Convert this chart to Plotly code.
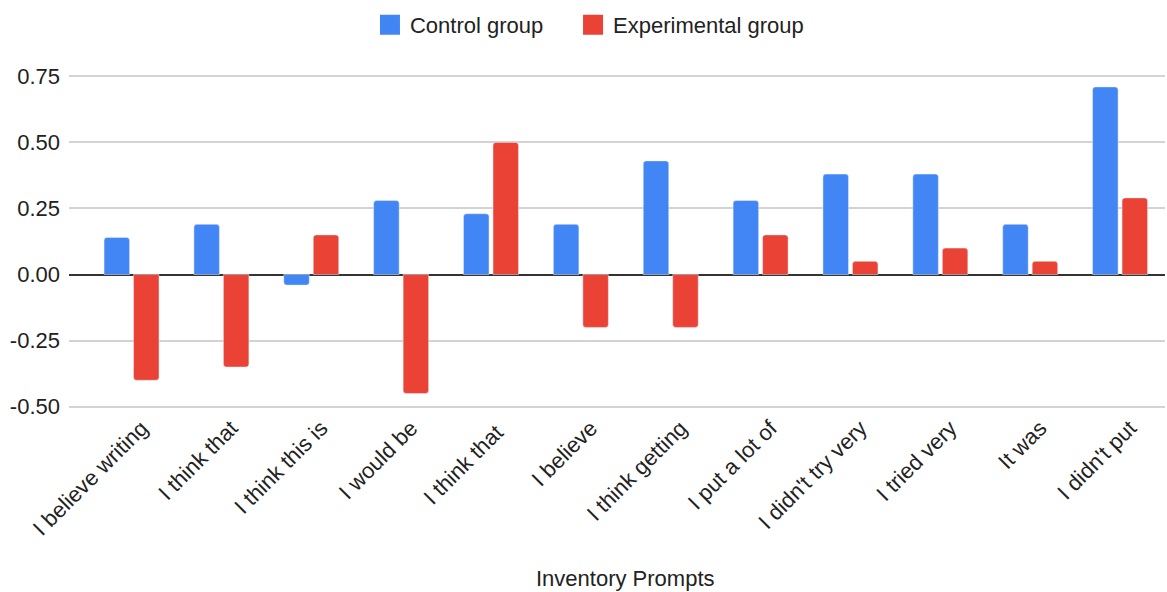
import plotly.graph_objects as go

prompts = [
    "I believe writing", "I think that", "I think this is", "I would be",
    "I think that ", "I believe", "I think getting", "I put a lot of",
    "I didn't try very", "I tried very", "It was", "I didn't put",
]
control = [0.14, 0.19, -0.04, 0.28, 0.23, 0.19, 0.43, 0.28, 0.38, 0.38, 0.19, 0.71]
experimental = [-0.40, -0.35, 0.15, -0.45, 0.50, -0.20, -0.20, 0.15, 0.05, 0.10, 0.05, 0.29]
y_ticks = [-0.50, -0.25, 0.00, 0.25, 0.50, 0.75]

series = [
    ("Control group", control, "#4285F4", "legend"),
    ("Experimental group", experimental, "#EA4335", "legend2"),
]

FONT = "Liberation Sans, Arial, sans-serif"
TXT = "#222222"

fig = go.Figure()
for name, values, color, _ in series:
    fig.add_trace(go.Bar(name=name, x=prompts, y=values, showlegend=False,
                         marker=dict(color=color, cornerradius=3)))
# legend entries with larger square swatches, one legend box per series
for name, values, color, leg in series:
    fig.add_trace(go.Scatter(name=name, x=[None], y=[None], mode="markers",
                             legend=leg,
                             marker=dict(symbol="square", size=16, color=color,
                                         line=dict(color=color, width=4))))

legend_common = dict(orientation="h", xanchor="left", y=1.15, yanchor="middle",
                     font=dict(size=22, color=TXT), bgcolor="rgba(0,0,0,0)")

fig.update_layout(
    width=1167, height=592,
    margin=dict(l=69, r=2, t=75, b=184),
    paper_bgcolor="white", plot_bgcolor="white",
    barmode="group", bargap=0.344, bargroupgap=0.135,
    font=dict(family=FONT, size=22, color=TXT),
    showlegend=True,
    legend=dict(x=0.2746, **legend_common),
    legend2=dict(x=0.4599, **legend_common),
    xaxis=dict(
        type="category", range=[-0.696, 11.5],
        tickangle=-45, tickfont=dict(size=22, color=TXT),
        showgrid=False, showline=False, zeroline=False, ticks="",
        ticklabelstandoff=2, ticklabelshift=10,
    ),
    yaxis=dict(
        range=[-0.505, 0.755], tickvals=y_ticks,
        ticktext=[f"{v:.2f}" for v in y_ticks],
        tickfont=dict(size=22, color=TXT),
        showgrid=True, gridcolor="#d3d3d3", gridwidth=2,
        zeroline=True, zerolinecolor="#333333", zerolinewidth=2,
        showline=False, ticks="", ticklabelstandoff=8,
    ),
)

fig.add_annotation(text="Inventory Prompts", xref="x", yref="paper",
                   x=5.5, y=-0.512, yanchor="middle", showarrow=False,
                   font=dict(size=22, color=TXT))

fig.write_html("out.html")
